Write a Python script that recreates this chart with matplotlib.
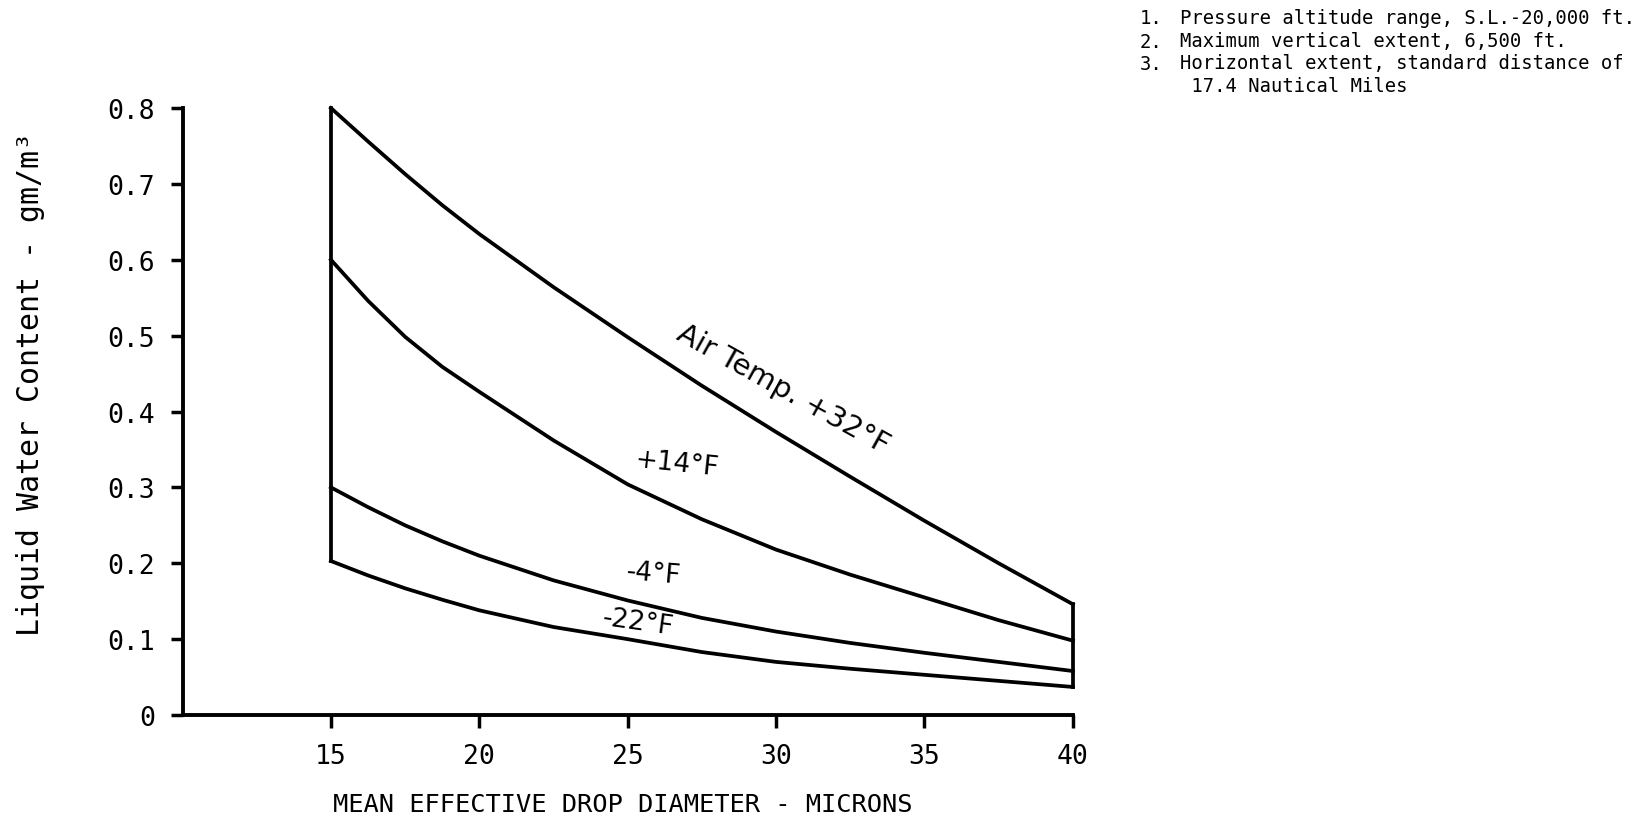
import numpy as np
import matplotlib
matplotlib.use("Agg")
import matplotlib.pyplot as plt

# mean effective drop diameter, microns
diameter = [15, 16.25, 17.5, 18.75, 20, 22.5, 25, 27.5, 30, 32.5, 35, 37.5, 40]

# liquid water content, gm/m^3, for each air temperature
lwc_p32 = [0.800, 0.756, 0.713, 0.672, 0.634, 0.564, 0.498, 0.434, 0.373, 0.314, 0.256, 0.200, 0.146]
lwc_p14 = [0.600, 0.546, 0.4985, 0.459, 0.426, 0.362, 0.304, 0.258, 0.218, 0.185, 0.155, 0.125, 0.098]
lwc_m4 = [0.300, 0.274, 0.250, 0.229, 0.210, 0.1775, 0.151, 0.128, 0.110, 0.095, 0.082, 0.070, 0.058]
lwc_m22 = [0.203, 0.184, 0.167, 0.152, 0.138, 0.116, 0.100, 0.083, 0.070, 0.061, 0.053, 0.045, 0.037]

y_ticks = [0, 0.1, 0.2, 0.3, 0.4, 0.5, 0.6, 0.7, 0.8]
y_tick_labels = ["0", "0.1", "0.2", "0.3", "0.4", "0.5", "0.6", "0.7", "0.8"]
x_ticks = [15, 20, 25, 30, 35, 40]

notes = [
    ("1.", "Pressure altitude range, S.L.-20,000 ft."),
    ("2.", "Maximum vertical extent, 6,500 ft."),
    ("3.", "Horizontal extent, standard distance of"),
    ("", " 17.4 Nautical Miles"),
]

mono = "DejaVu Sans Mono"
plt.rcParams["font.family"] = [mono]

fig = plt.figure(figsize=(16.4, 8.2), dpi=100)
ax = fig.add_axes([0.1113, 0.1268, 0.5429, 0.7402])

lw = 2.7
for lwc in (lwc_p32, lwc_p14, lwc_m4, lwc_m22):
    ax.plot(diameter, lwc, color="black", lw=lw, clip_on=False,
            solid_joinstyle="round")

# close the envelope at both ends
for i in (0, -1):
    ax.plot([diameter[i], diameter[i]], [lwc_m22[i], lwc_p32[i]],
            color="black", lw=lw, clip_on=False, solid_capstyle="projecting")

ax.set_xlim(10, 40)
ax.set_ylim(0, 0.8)
ax.set_xticks(x_ticks)
ax.set_yticks(y_ticks)
ax.set_yticklabels(y_tick_labels)
ax.tick_params(axis="both", direction="out", length=9, width=2.5,
               labelsize=19, pad=11, colors="black")

# short inward stubs at the ends of both axes
ax.set_xticks([x_ticks[-1]], minor=True)
ax.set_yticks([y_ticks[-1]], minor=True)
ax.tick_params(which="minor", direction="in", length=9, width=2.5)

for side in ("top", "right"):
    ax.spines[side].set_visible(False)
for side in ("left", "bottom"):
    ax.spines[side].set_linewidth(2.8)

# curve labels
label_font = dict(family="DejaVu Sans", ha="center", va="center",
                  rotation_mode="anchor")
ax.text(30.23, 0.430, "Air Temp. +32°F", rotation=-29, fontsize=21, **label_font)
ax.text(26.66, 0.332, "+14°F", rotation=-6, fontsize=19, **label_font)
ax.text(25.88, 0.186, "-4°F", rotation=-5, fontsize=19, **label_font)
ax.text(25.35, 0.123, "-22°F", rotation=-8, fontsize=19, **label_font)

fig.text(0.380, 0.0183, "MEAN EFFECTIVE DROP DIAMETER - MICRONS",
         fontsize=18.3, ha="center", va="center")
fig.text(0.0183, 0.532, "Liquid Water Content - gm/m³",
         fontsize=21.5, rotation=90, ha="center", va="center")

# notes, top right
line_y = [19, 42, 64, 87]
for (num, text), y in zip(notes, line_y):
    fig.text(1140 / 1640, 1 - y / 820, num, fontsize=13.6, ha="left", va="center")
    fig.text(1180 / 1640, 1 - y / 820, text, fontsize=13.6, ha="left", va="center")

fig.savefig("out.png", dpi=100, facecolor="white")
